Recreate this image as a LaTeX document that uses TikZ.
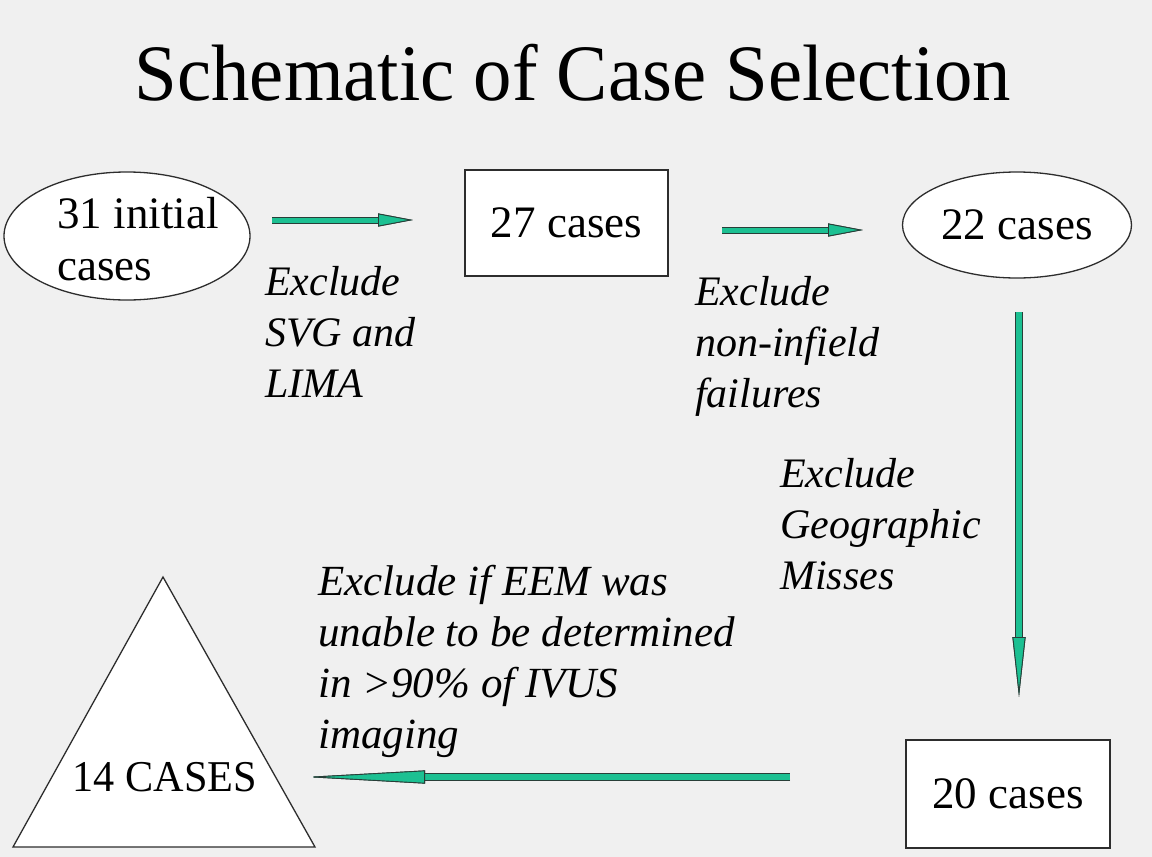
\documentclass[tikz,border=0pt]{standalone}
\usepackage{fontspec}
\setmainfont{Liberation Serif}
\newfontfamily\condfont[FakeStretch=0.96]{Liberation Serif}
\usetikzlibrary{arrows.meta,shapes.geometric}
\definecolor{bg}{HTML}{F0F0F0}
\definecolor{tealc}{RGB}{28,192,146}
\definecolor{edgec}{RGB}{40,62,56}
\definecolor{linec}{RGB}{45,45,45}
\begin{document}
\begin{tikzpicture}[x=1pt,y=-1pt,
  shapebase/.style={draw=linec, line width=1.3pt, fill=white, inner sep=0pt,
    font=\fontsize{45}{55}\selectfont},
  box/.style={shapebase, rectangle, align=center},
  oval/.style={shapebase, ellipse, align=left},
  note/.style={anchor=north west, inner sep=0pt, align=left,
    font=\fontsize{42}{51}\selectfont\itshape},
  fatarrow/.style n args={3}{line width=#2, draw=tealc,
    -{Triangle[length=#1,width=13pt,line width=0.9pt,fill=tealc,color=edgec]},
    preaction={draw=edgec, line width=#3}}
]
\useasboundingbox[fill=bg] (0,0) rectangle (1152,857);

% title
\node[anchor=base, inner sep=0pt, font=\condfont\fontsize{80}{90}\selectfont] (title) at (573,100) {Schematic of Case Selection};

% stages
\node[oval, minimum width=246pt, minimum height=128pt] (n31) at (127,236)
  {\smash{\raisebox{-14pt}{\makebox[0pt]{\hspace{22pt}\begin{tabular}{@{}l@{}}31 initial\\[-3pt]cases\end{tabular}}}}};
\node[box, minimum width=203pt, minimum height=106pt] (n27) at (566.5,223) {27 cases};
\node[oval, minimum width=229pt, minimum height=106pt] (n22) at (1017,225) {22 cases};
\node[box, minimum width=204pt, minimum height=108pt] (n20) at (1008,794) {20 cases};

\coordinate (tA) at (163,577);
\coordinate (tL) at (13,847);
\coordinate (tR) at (315,847);
\draw[draw=linec, line width=1.3pt, fill=white] (tA) -- (tL) -- (tR) -- cycle;
\node[inner sep=0pt, font=\condfont\fontsize{44}{52}\selectfont] (n14) at (165,777) {14 CASES};

% arrows
\coordinate (a1s) at (272,220); \coordinate (a1e) at (413,220);
\coordinate (a2s) at (722,230); \coordinate (a2e) at (863,230);
\coordinate (a3s) at (1019,312); \coordinate (a3e) at (1019,697);
\coordinate (a4s) at (790,777); \coordinate (a4e) at (305,777);
\draw[fatarrow={35pt}{5pt}{7pt}] (a1s) -- (a1e);
\draw[fatarrow={35pt}{5pt}{7pt}] (a2s) -- (a2e);
\draw[fatarrow={60pt}{6pt}{8pt}] (a3s) -- (a3e);
\draw[fatarrow={120pt}{6pt}{8pt}] (a4s) -- (a4e);

% labels
\node[note] (l1) at (265,259.3) {\strut Exclude\\SVG and\\LIMA};
\node[note] (l2) at (695,269.3) {\strut Exclude\\non-infield\\failures};
\node[note] (l3) at (780,451.3) {\strut Exclude\\Geographic\\Misses};
\node[note, font=\fontsize{43}{51}\selectfont\itshape] (l4) at (318,559.3) {\strut Exclude if EEM was\\unable to be determined\\in >90\% of IVUS\\imaging};
\end{tikzpicture}
\end{document}
